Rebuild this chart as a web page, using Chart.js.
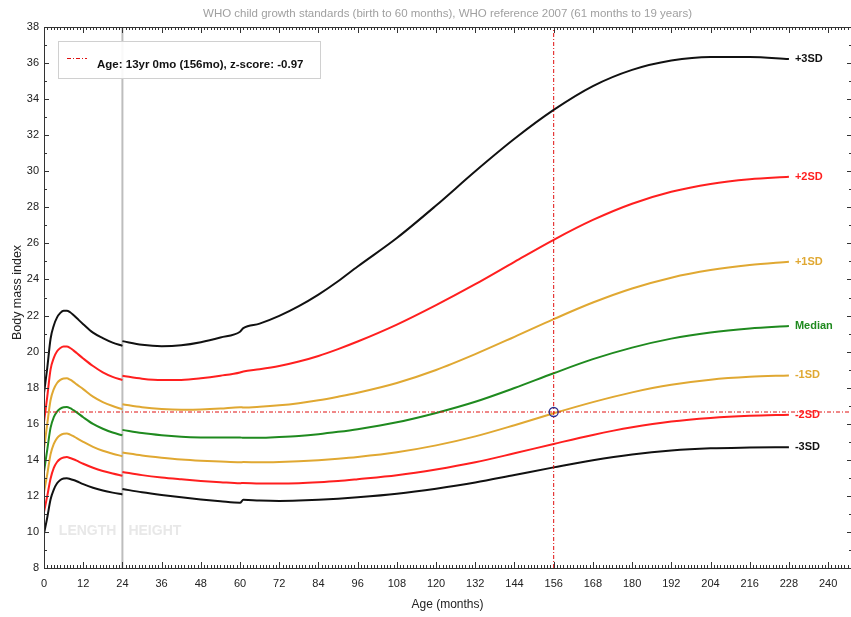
<!DOCTYPE html>
<html><head><meta charset="utf-8">
<script src="https://cdn.jsdelivr.net/npm/chart.js@4/dist/chart.umd.min.js"></script>
<style>html,body{margin:0;padding:0;background:#fff;}</style>
</head><body>
<canvas id="c" width="851" height="617"></canvas>
<script>
// ---------- DATA ----------
const title = 'WHO child growth standards (birth to 60 months), WHO reference 2007 (61 months to 19 years)';
const curveNames = ['-3SD', '-2SD', '-1SD', 'Median', '+1SD', '+2SD', '+3SD'];
const xTickLabels = [0,12,24,36,48,60,72,84,96,108,120,132,144,156,168,180,192,204,216,228,240];
const yTickLabels = [8,10,12,14,16,18,20,22,24,26,28,30,32,34,36,38];

// Birth to 24 months (length-based)
const agesLength = [0,1,2,3,4,5,6,7,8,9,10,12,15,18,21,24];
const lenMinus3 = [9.9,10.8,11.8,12.35,12.7,12.88,12.96,12.98,12.94,12.88,12.81,12.65,12.45,12.3,12.18,12.08];
const lenMinus2 = [11.1,12.0,12.95,13.55,13.88,14.05,14.13,14.15,14.1,14.03,13.95,13.78,13.56,13.38,13.24,13.12];
const lenMinus1 = [12.2,13.2,14.3,14.88,15.2,15.37,15.45,15.46,15.4,15.31,15.2,15.0,14.72,14.5,14.34,14.2];
const lenMedian = [13.34,14.57,15.77,16.36,16.67,16.84,16.92,16.93,16.86,16.75,16.63,16.36,15.99,15.72,15.51,15.36];
const lenPlus1  = [14.6,16.0,17.3,17.92,18.26,18.43,18.51,18.52,18.44,18.32,18.18,17.92,17.5,17.2,16.98,16.8];
const lenPlus2  = [16.1,17.5,19.0,19.65,20.02,20.2,20.28,20.28,20.2,20.07,19.92,19.62,19.2,18.85,18.6,18.42];
const lenPlus3  = [17.7,19.1,20.7,21.45,21.9,22.15,22.27,22.27,22.18,22.03,21.86,21.52,21.05,20.75,20.5,20.32];

// 24 to 60 months (height-based)
const agesHeight = [24,30,36,42,48,54,60];
const hgtMinus3 = [12.38,12.2,12.05,11.92,11.8,11.7,11.62];
const hgtMinus2 = [13.32,13.15,13.02,12.92,12.83,12.76,12.7];
const hgtMinus1 = [14.4,14.24,14.12,14.02,13.95,13.9,13.86];
const hgtMedian = [15.66,15.48,15.36,15.28,15.24,15.23,15.24];
const hgtPlus1  = [17.08,16.92,16.82,16.78,16.79,16.84,16.92];
const hgtPlus2  = [18.66,18.5,18.42,18.43,18.52,18.66,18.84];
const hgtPlus3  = [20.58,20.38,20.3,20.35,20.52,20.78,21.1];

// 61 months to 19 years (WHO reference 2007)
const agesRef = [61,66,72,78,84,90,96,108,120,132,144,156,168,180,192,204,216,228];
const refMinus3 = [11.78,11.74,11.72,11.74,11.78,11.84,11.92,12.12,12.4,12.74,13.16,13.58,13.98,14.3,14.52,14.64,14.68,14.7];
const refMinus2 = [12.72,12.68,12.68,12.7,12.75,12.82,12.92,13.14,13.46,13.86,14.36,14.88,15.38,15.8,16.12,16.32,16.44,16.5];
const refMinus1 = [13.88,13.86,13.88,13.92,13.98,14.06,14.16,14.42,14.8,15.3,15.92,16.58,17.2,17.74,18.16,18.44,18.6,18.68];
const refMedian = [15.22,15.22,15.26,15.32,15.42,15.55,15.7,16.08,16.6,17.22,17.98,18.8,19.58,20.22,20.72,21.06,21.28,21.42];
const refPlus1  = [16.9,16.94,17.02,17.14,17.3,17.5,17.72,18.26,18.98,19.86,20.82,21.8,22.72,23.5,24.1,24.52,24.8,24.98];
const refPlus2  = [18.9,19.02,19.2,19.45,19.76,20.14,20.56,21.5,22.58,23.74,24.98,26.2,27.3,28.2,28.86,29.3,29.56,29.7];
const refPlus3  = [21.3,21.55,21.98,22.52,23.16,23.9,24.72,26.3,28.1,30.0,31.8,33.4,34.72,35.62,36.14,36.34,36.34,36.22];

// Patient point
const pointAge = 156;
const pointBmi = 16.65;
const legendText = 'Age: 13yr 0mo (156mo), z-score: -0.97';

// ---------- STYLE ----------
const BLACK = '#111111', RED = '#ff1f1f', GOLD = '#e0a832', GREEN = '#1f8a1f';
const curveColors = [BLACK, RED, GOLD, GREEN, GOLD, RED, BLACK];
const lenSets = [lenMinus3, lenMinus2, lenMinus1, lenMedian, lenPlus1, lenPlus2, lenPlus3];
const hgtSets = [hgtMinus3, hgtMinus2, hgtMinus1, hgtMedian, hgtPlus1, hgtPlus2, hgtPlus3];
const refSets = [refMinus3, refMinus2, refMinus1, refMedian, refPlus1, refPlus2, refPlus3];
const FONT = '"Liberation Sans", Arial, sans-serif';

function toXY(ages, vals) { return ages.map((a, i) => ({x: a, y: vals[i]})); }

const datasets = [];
datasets.push({
  data: [{x: pointAge, y: pointBmi}], order: 0, showLine: false,
  pointRadius: 4.5, pointBorderColor: '#2b2f8f', pointBackgroundColor: 'rgba(0,0,0,0)', pointBorderWidth: 1.3
});
datasets.push({ data: [{x: pointAge, y: 8}, {x: pointAge, y: 38}], order: 1, borderColor: '#e01010', borderWidth: 1, borderDash: [4,2,1,2], pointRadius: 0 });
datasets.push({ data: [{x: 0, y: pointBmi}, {x: 247, y: pointBmi}], order: 1, borderColor: '#e01010', borderWidth: 1, borderDash: [4,2,1,2], pointRadius: 0 });
curveNames.forEach((name, k) => {
  const segs = [
    toXY(agesLength, lenSets[k]),
    toXY(agesHeight, hgtSets[k]).concat(toXY(agesRef, refSets[k]))
  ];
  segs.forEach(seg => {
    datasets.push({
      label: name, data: seg, order: 2,
      borderColor: curveColors[k], borderWidth: 2, pointRadius: 0,
      cubicInterpolationMode: 'monotone', fill: false
    });
  });
});

const backPlugin = {
  id: 'back',
  beforeDatasetsDraw(chart) {
    const {ctx, chartArea: a, scales: {x, y}} = chart;
    ctx.save();
    ctx.font = 'bold 14px ' + FONT;
    ctx.fillStyle = '#e8e8e8';
    ctx.textBaseline = 'middle';
    const x24 = x.getPixelForValue(24);
    ctx.textAlign = 'right';
    ctx.fillText('LENGTH', x24 - 6, 531);
    ctx.textAlign = 'left';
    ctx.fillText('HEIGHT', x24 + 6, 531);
    ctx.strokeStyle = '#bdbdbd';
    ctx.lineWidth = 2;
    ctx.beginPath();
    ctx.moveTo(x24, a.top); ctx.lineTo(x24, a.bottom);
    ctx.stroke();
    ctx.restore();
  }
};

const frontPlugin = {
  id: 'front',
  afterDatasetsDraw(chart) {
    const {ctx, chartArea: a, scales: {x, y}} = chart;
    ctx.save();
    ctx.strokeStyle = '#333';
    ctx.lineWidth = 1;
    ctx.beginPath();
    ctx.moveTo(a.left + 0.5, a.top); ctx.lineTo(a.left + 0.5, a.bottom + 0.5);
    ctx.lineTo(a.right + 1, a.bottom + 0.5);
    ctx.moveTo(a.left, a.top + 0.5); ctx.lineTo(a.right + 1, a.top + 0.5);
    ctx.stroke();
    ctx.beginPath();
    for (let m = 0; m <= 247; m++) {
      const px = Math.round(x.getPixelForValue(m)) + 0.5;
      const len = (m % 12 === 0) ? 6 : 3;
      ctx.moveTo(px, a.bottom); ctx.lineTo(px, a.bottom - len);
      ctx.moveTo(px, a.top); ctx.lineTo(px, a.top + len);
    }
    for (let v = 8; v <= 38; v++) {
      const py = Math.round(y.getPixelForValue(v)) + 0.5;
      const len = (v % 2 === 0) ? 5 : 3;
      ctx.moveTo(a.left, py); ctx.lineTo(a.left + len, py);
      ctx.moveTo(a.right + 1, py); ctx.lineTo(a.right + 1 - len, py);
    }
    ctx.stroke();
    ctx.fillStyle = '#222';
    ctx.font = '11px ' + FONT;
    ctx.textAlign = 'center'; ctx.textBaseline = 'middle';
    xTickLabels.forEach(v => ctx.fillText(String(v), x.getPixelForValue(v), 584));
    ctx.textAlign = 'right';
    yTickLabels.forEach(v => ctx.fillText(String(v), 39, y.getPixelForValue(v)));
    ctx.font = '12px ' + FONT;
    ctx.textAlign = 'center';
    ctx.fillText('Age (months)', (a.left + a.right) / 2, 605);
    ctx.save();
    ctx.translate(18, (a.top + a.bottom) / 2 - 5);
    ctx.rotate(-Math.PI / 2);
    ctx.font = '12.5px ' + FONT;
    ctx.fillText('Body mass index', 0, 0);
    ctx.restore();
    ctx.fillStyle = '#a0a0a0';
    ctx.font = '11.5px ' + FONT;
    ctx.fillText(title, (a.left + a.right) / 2, 14);
    ctx.font = 'bold 11px ' + FONT;
    ctx.textAlign = 'left';
    curveNames.forEach((name, k) => {
      const vals = refSets[k];
      const lastAge = agesRef[agesRef.length - 1];
      ctx.fillStyle = curveColors[k];
      ctx.fillText(name, x.getPixelForValue(lastAge) + 6, y.getPixelForValue(vals[vals.length - 1]));
    });
    ctx.fillStyle = 'rgba(255,255,255,0.9)';
    ctx.fillRect(58.5, 41.5, 262, 37);
    ctx.strokeStyle = '#d0d0d0';
    ctx.strokeRect(58.5, 41.5, 262, 37);
    ctx.strokeStyle = '#e01010';
    ctx.setLineDash([4,2,1,2]);
    ctx.beginPath(); ctx.moveTo(67, 58.5); ctx.lineTo(87, 58.5); ctx.stroke();
    ctx.setLineDash([]);
    ctx.fillStyle = '#111';
    ctx.font = 'bold 11.5px ' + FONT;
    ctx.fillText(legendText, 97, 65);
    ctx.restore();
  }
};

new Chart(document.getElementById('c').getContext('2d'), {
  type: 'line',
  data: { datasets },
  options: {
    responsive: false, animation: false,
    layout: { autoPadding: false, padding: { left: 44, top: 27, right: 0, bottom: 49 } },
    scales: {
      x: { type: 'linear', min: 0, max: 247, display: false },
      y: { type: 'linear', min: 8, max: 38, display: false }
    },
    plugins: { legend: { display: false }, tooltip: { enabled: false }, title: { display: false } }
  },
  plugins: [backPlugin, frontPlugin]
});
</script>
</body></html>
